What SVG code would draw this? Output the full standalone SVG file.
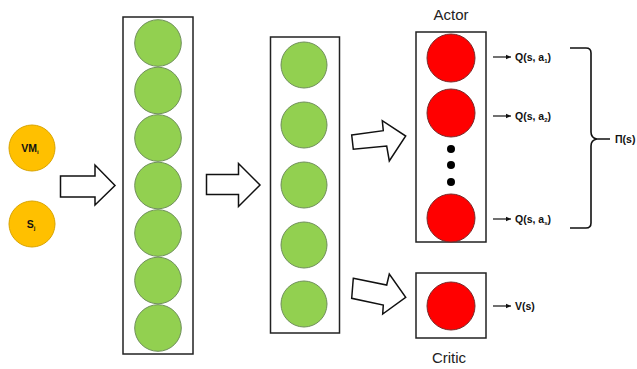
<svg xmlns="http://www.w3.org/2000/svg" width="637" height="369" viewBox="0 0 637 369">
<defs>
<style>
.box{fill:#fff;stroke:#222;stroke-width:1.5}
.g{fill:#92D050;stroke:#6f8f5a;stroke-width:1}
.r{fill:#FF0000;stroke:#7a2a2a;stroke-width:1}
.o{fill:#FFC000;stroke:#d9a400;stroke-width:1}
.blk{fill:#fff;stroke:#111;stroke-width:1.5;stroke-linejoin:miter}
.lbl{font-family:"Liberation Sans",Arial,sans-serif;font-size:10.5px;font-weight:bold;fill:#111}
.ttl{font-family:"Liberation Sans",Arial,sans-serif;font-size:15px;fill:#222}
.sub{font-size:6px}
.ln{stroke:#111;stroke-width:1.2;fill:none}
</style>
<marker id="ah" markerWidth="6" markerHeight="6" refX="5" refY="3" orient="auto" markerUnits="userSpaceOnUse">
<path d="M0,0.8 L5,3 L0,5.2 Z" fill="#111"/>
</marker>
</defs>
<rect width="637" height="369" fill="#fff"/>

<g id="inputs">
<g id="vm">
<circle class="o" cx="32" cy="148" r="23"/>
<text class="lbl" x="30" y="152" text-anchor="middle">VM<tspan class="sub" dy="2">i</tspan></text>
</g>
<g id="s">
<circle class="o" cx="32" cy="224" r="23"/>
<text class="lbl" x="31" y="228" text-anchor="middle">S<tspan class="sub" dy="2">j</tspan></text>
</g>
</g>

<g id="hidden1">
<rect class="box" x="123" y="17" width="70" height="337"/>
<circle class="g" cx="158" cy="43" r="23.3"/>
<circle class="g" cx="158" cy="90.5" r="23.3"/>
<circle class="g" cx="158" cy="138" r="23.3"/>
<circle class="g" cx="158" cy="185.5" r="23.3"/>
<circle class="g" cx="158" cy="233" r="23.3"/>
<circle class="g" cx="158" cy="280.5" r="23.3"/>
<circle class="g" cx="158" cy="328" r="23.3"/>
</g>

<g id="hidden2">
<rect class="box" x="270.5" y="37" width="69" height="296"/>
<circle class="g" cx="304" cy="65" r="23"/>
<circle class="g" cx="304" cy="125" r="23"/>
<circle class="g" cx="304" cy="185" r="23"/>
<circle class="g" cx="304" cy="245" r="23"/>
<circle class="g" cx="304" cy="304" r="23"/>
</g>

<g id="actor">
<text class="ttl" x="451" y="20" text-anchor="middle">Actor</text>
<rect class="box" x="416" y="32" width="70" height="210"/>
<circle class="r" cx="451" cy="58" r="24"/>
<circle class="r" cx="451" cy="113" r="24"/>
<circle cx="451" cy="149" r="4" fill="#000"/>
<circle cx="451" cy="165" r="4" fill="#000"/>
<circle cx="451" cy="182" r="4" fill="#000"/>
<circle class="r" cx="451" cy="218" r="24"/>
</g>

<g id="critic">
<rect class="box" x="416" y="273" width="70" height="65"/>
<circle class="r" cx="451" cy="306" r="24"/>
<text class="ttl" x="449" y="363" text-anchor="middle">Critic</text>
</g>

<g id="outputs">
<text class="lbl" x="515" y="61">Q(s, a<tspan class="sub" dy="2">1</tspan><tspan dy="-2">)</tspan></text>
<text class="lbl" x="515" y="120">Q(s, a<tspan class="sub" dy="2">2</tspan><tspan dy="-2">)</tspan></text>
<text class="lbl" x="515" y="223">Q(s, a<tspan class="sub" dy="2">s</tspan><tspan dy="-2">)</tspan></text>
<text class="lbl" x="515" y="310">V(s)</text>
<text class="lbl" x="615" y="143">Π(s)</text>
</g>

<g id="connectors">
<polygon class="blk" points="60.5,176 95,176 95,165 115,185.5 95,205 95,197 60.5,197"/>
<polygon class="blk" points="206.5,174.5 238.5,174.5 238.5,163.5 260,185 238.5,206.5 238.5,194.5 206.5,194.5"/>
<polygon class="blk" points="351.7,135 383.3,130.7 382.3,120.7 405.7,136 389.3,161 386.7,146 353.3,149.3"/>
<polygon class="blk" points="353.3,278.3 386.7,285 389.3,274 405.7,297.3 382.7,314 383.3,305 351.7,298.3"/>
<line class="ln" x1="493" y1="57" x2="511" y2="57" marker-end="url(#ah)"/>
<line class="ln" x1="493" y1="116" x2="511" y2="116" marker-end="url(#ah)"/>
<line class="ln" x1="493" y1="219" x2="511" y2="219" marker-end="url(#ah)"/>
<line class="ln" x1="493" y1="306" x2="511" y2="306" marker-end="url(#ah)"/>
<path d="M570,48 H586 Q591,48 591,53 V132 Q591,138 597,139 H610 M597,139 Q591,140 591,146 V223 Q591,228 586,228 H570" fill="none" stroke="#111" stroke-width="1.6"/>
</g>
</svg>
